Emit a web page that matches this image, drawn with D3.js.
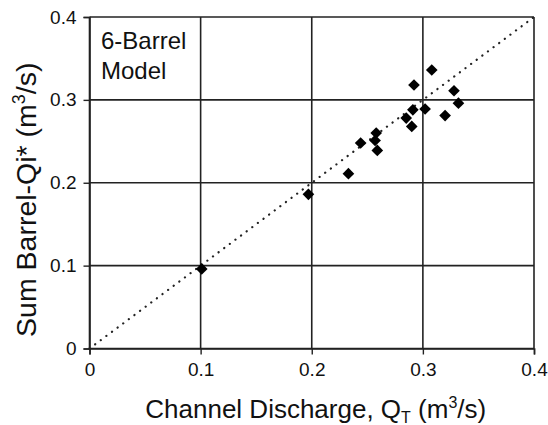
<!DOCTYPE html>
<html>
<head>
<meta charset="utf-8">
<script src="https://cdn.jsdelivr.net/npm/d3@7"></script>
<style>
  body { margin: 0; background: #fff; }
  text { font-family: "Liberation Sans", Arial, sans-serif; fill: #111; }
</style>
</head>
<body>
<svg id="chart"></svg>
<script>
const width = 548, height = 425;
const margin = { top: 17, right: 14, bottom: 76.5, left: 89.5 };

// Data (m3/s)
const channelQ = [0.101, 0.197, 0.233, 0.244, 0.258, 0.257, 0.259, 0.285, 0.290, 0.291, 0.292, 0.302, 0.308, 0.320, 0.328, 0.332];
const barrelQ  = [0.096, 0.186, 0.211, 0.248, 0.260, 0.251, 0.239, 0.278, 0.268, 0.288, 0.318, 0.289, 0.336, 0.281, 0.311, 0.296];
const ticks = [0, 0.1, 0.2, 0.3, 0.4];
const ticklabels = ["0", "0.1", "0.2", "0.3", "0.4"];

const svg = d3.select("#chart")
    .attr("width", width)
    .attr("height", height);

const xScale = d3.scaleLinear()
    .domain([0, 0.4])
    .range([margin.left, width - margin.right]);

const yScale = d3.scaleLinear()
    .domain([0, 0.4])
    .range([height - margin.bottom, margin.top]);

// Grid lines
svg.append("g")
    .selectAll("line.v")
    .data(ticks)
    .enter().append("line")
    .attr("x1", d => xScale(d)).attr("x2", d => xScale(d))
    .attr("y1", yScale(0)).attr("y2", yScale(0.4))
    .attr("stroke", "#222").attr("stroke-width", 1.6);

svg.append("g")
    .selectAll("line.h")
    .data(ticks)
    .enter().append("line")
    .attr("y1", d => yScale(d)).attr("y2", d => yScale(d))
    .attr("x1", xScale(0)).attr("x2", xScale(0.4))
    .attr("stroke", "#222").attr("stroke-width", 1.6);

// Axes
const xAxis = svg.append("g")
    .attr("transform", `translate(0, ${yScale(0)})`)
    .call(d3.axisBottom(xScale).tickValues(ticks).tickFormat((d, i) => ticklabels[i]).tickSizeOuter(0).tickSize(6).tickPadding(8));

const yAxis = svg.append("g")
    .attr("transform", `translate(${xScale(0)}, 0)`)
    .call(d3.axisLeft(yScale).tickValues(ticks).tickFormat((d, i) => ticklabels[i]).tickSizeOuter(0).tickSize(6).tickPadding(7));

[xAxis, yAxis].forEach(a => {
    a.select(".domain").attr("stroke", "#222").attr("stroke-width", 1.6);
    a.selectAll(".tick line").attr("stroke", "#222").attr("stroke-width", 1.4);
    a.selectAll("text")
        .style("font-family", "'Liberation Sans', Arial, sans-serif")
        .style("font-size", "19px")
        .attr("fill", "#111");
});

// 1:1 dotted line
svg.append("line")
    .attr("x1", xScale(0)).attr("y1", yScale(0))
    .attr("x2", xScale(0.4)).attr("y2", yScale(0.4))
    .attr("stroke", "#222")
    .attr("stroke-width", 2.2)
    .attr("stroke-linecap", "round")
    .attr("stroke-dasharray", "0.1,6.9");

// Diamond markers
svg.append("g")
    .selectAll("path")
    .data(channelQ)
    .enter().append("path")
    .attr("d", d3.symbol().type(d3.symbolSquare).size(68))
    .attr("transform", (d, i) => `translate(${xScale(d)}, ${yScale(barrelQ[i])}) rotate(45)`)
    .attr("fill", "#000");

// Label box text
const label = svg.append("text")
    .attr("x", xScale(0) + 11.5)
    .style("font-size", "24px");
label.append("tspan").attr("x", xScale(0) + 11.5).attr("y", 48.5).text("6-Barrel");
label.append("tspan").attr("x", xScale(0) + 11.5).attr("y", 79).text("Model");

// X axis title
const xt = svg.append("text")
    .attr("x", (xScale(0) + xScale(0.4)) / 2 + 4)
    .attr("y", 418)
    .attr("text-anchor", "middle")
    .style("font-size", "26px");
xt.append("tspan").text("Channel Discharge, Q");
xt.append("tspan").attr("dy", 5).style("font-size", "16px").text("T");
xt.append("tspan").attr("dy", -5).text(" (m");
xt.append("tspan").attr("dy", -10).style("font-size", "16px").text("3");
xt.append("tspan").attr("dy", 10).text("/s)");

// Y axis title
const yt = svg.append("text")
    .attr("transform", `translate(36, ${(yScale(0) + yScale(0.4)) / 2 + 17}) rotate(-90)`)
    .attr("text-anchor", "middle")
    .style("font-size", "28.5px");
yt.append("tspan").text("Sum Barrel-Qi* (m");
yt.append("tspan").attr("dy", -11).style("font-size", "18px").text("3");
yt.append("tspan").attr("dy", 11).text("/s)");
</script>
</body>
</html>
